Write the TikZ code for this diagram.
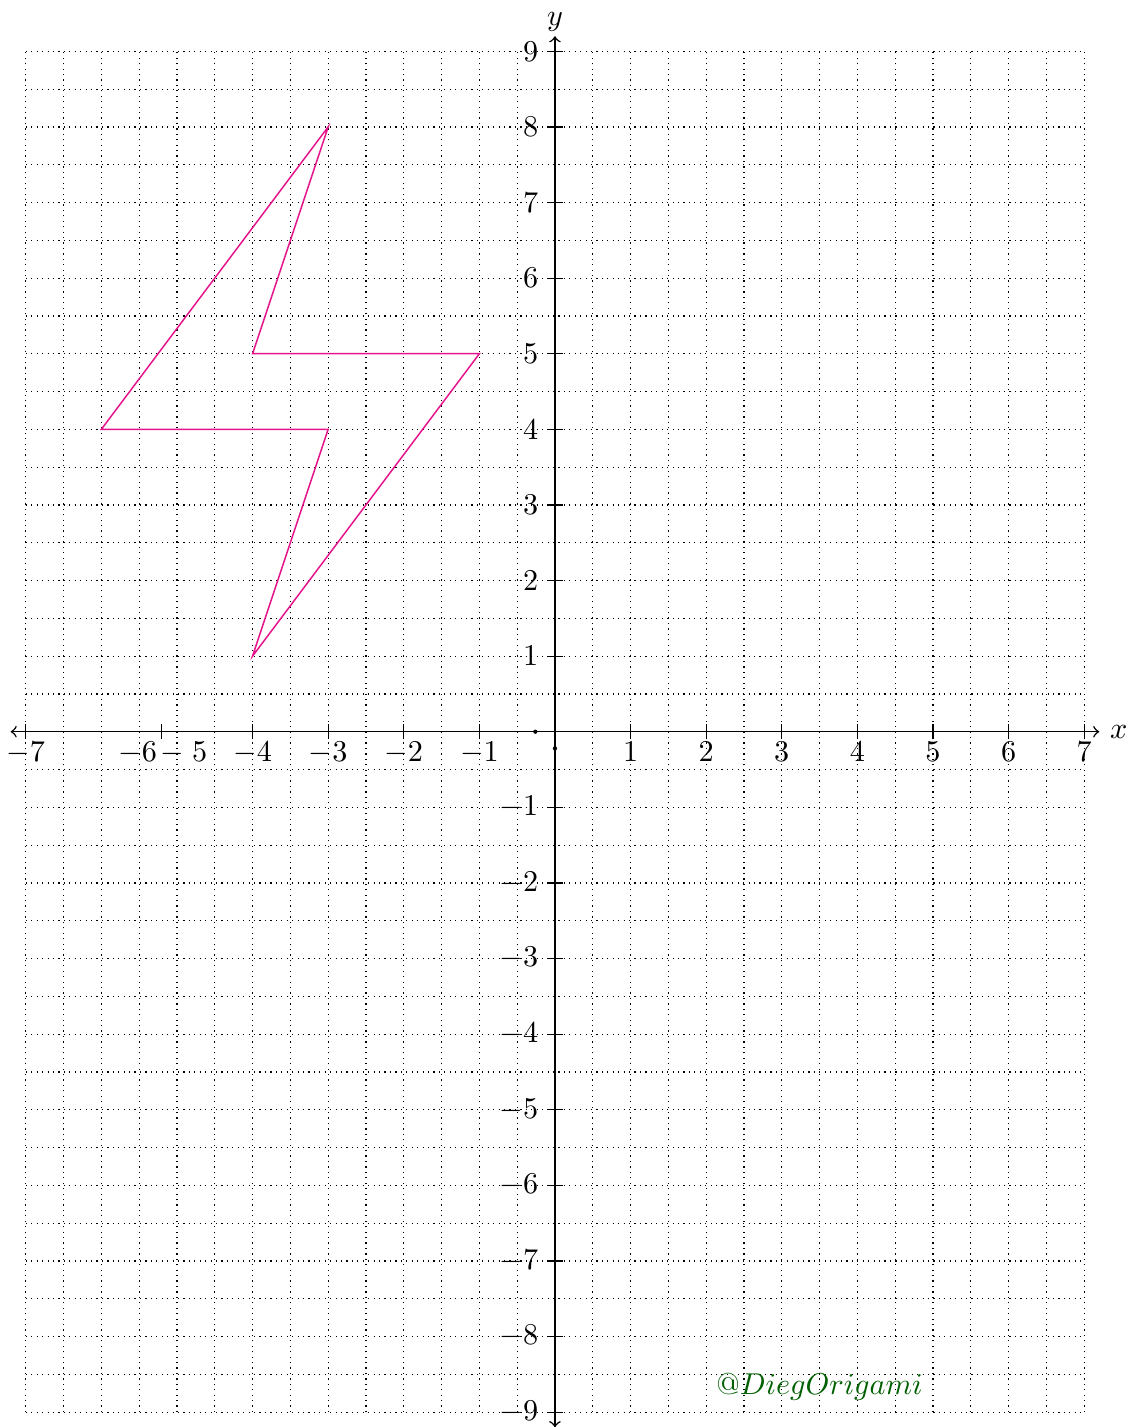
\documentclass[tikz,border=0pt]{standalone}
\usepackage{tikz}
\usetikzlibrary{arrows,positioning}
\definecolor{boltpink}{RGB}{230,20,140}
\definecolor{signgreen}{RGB}{0,95,0}
\tikzset{
  gridline/.style={dash pattern=on 0.4pt off 1.4pt, line width=0.4pt},
  axisline/.style={<->, line width=0.5pt},
  bolt/.style={boltpink, line width=0.5pt},
}

\begin{document}
\begin{tikzpicture}[x=0.88cm,y=0.88cm]
      \useasboundingbox (-7.341,-9.197) rectangle (7.672,9.679);
      \draw[gridline,step=0.5] (-7,-9) grid (7,9);

      \coordinate (xl) at (-7.2,0);
      \coordinate (xr) at (7.2,0);
      \coordinate (yb) at (0,-9.2);
      \coordinate (yt) at (0,9.2);
      \draw[axisline] (xl) -- (xr) node[right] (xlab) {$x$};
      \draw[axisline] (yb) -- (yt) node[above,inner sep=1.2pt] (ylab) {$y$};

      % ticks and labels on x
      \foreach \x in {-7,-5.2,-4,-3,-2,-1,1,2,3,4,5,6,7}
        \draw (\x,-0.1) -- (\x,0.1);
      \foreach \x/\lab in {-7/-7,-4/-4,-3/-3,-2/-2,-1/-1,1/1,2/2,3/3,4/4,5/5,6/6,7/7}
        \node[below] (x\lab) at (\x,0) {$\lab$};
      \node[below] (xsix) at (-5.52,0) {$-6$};
      \node[below] (xfive) at (-4.91,0) {$-\;5$};

      % ticks and labels on y
      \foreach \y in {-9,...,-1,1,2,...,9}{
        \draw (-0.1,\y) -- (0.1,\y);
        \node[left] (y\y) at (-0.08,\y) {$\y$};
      }
      \fill (-0.26,0) circle (0.7pt);
      \fill (0,-0.22) circle (0.7pt);

      % the bolt
      \coordinate (A) at (-6,4);
      \coordinate (B) at (-3,8);
      \coordinate (C) at (-4,5);
      \coordinate (D) at (-1,5);
      \coordinate (E) at (-4,1);
      \coordinate (F) at (-3,4);
      \draw[bolt] (A) -- (B) -- (C) -- (D) -- (E) -- (F) -- cycle;

      \node[signgreen] (sign) at (3.5,-8.67) {$@DiegOrigami$};
    \end{tikzpicture}
\end{document}
